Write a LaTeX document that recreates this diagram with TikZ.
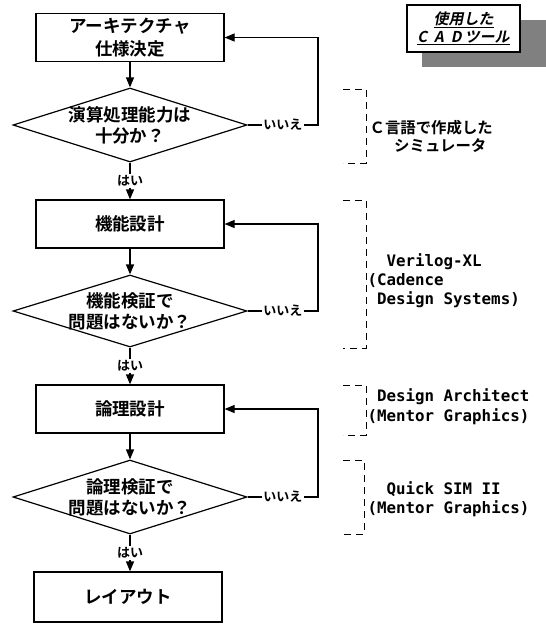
\documentclass[tikz,border=0pt]{standalone}
\usepackage{fontspec}
\newfontfamily\jp{Noto Sans CJK JP Bold}
\newfontfamily\jpit{Noto Sans CJK JP Bold}[FakeSlant=0.2]
\newfontfamily\mono{DejaVu Sans Mono Bold}
\usetikzlibrary{arrows.meta,shapes.geometric}
\begin{document}
\begin{tikzpicture}[x=1pt,y=-1pt,
  line width=1.2pt,
  procbox/.style={draw, minimum width=188pt, minimum height=48pt, inner sep=0pt, align=center, font=\jp\fontsize{17.5}{23}\selectfont},
  decbox/.style={draw, diamond, aspect=3.16, minimum width=234pt, minimum height=74pt, inner sep=0pt},
  dectext/.style={align=center, font=\jp\fontsize{17.5}{21}\selectfont, inner sep=0pt},
  flow/.style={-{Triangle[length=10pt,width=8pt]}},
  yesno/.style={font=\jp\fontsize{13}{13}\selectfont, fill=white, inner sep=1.5pt},
  tool/.style={anchor=west, align=left, font=\mono\fontsize{15.8}{19}\selectfont, inner sep=0pt},
  brk/.style={line width=1pt, dash pattern=on 7pt off 5pt}
]
\useasboundingbox (0,0) rectangle (546,625);

% process boxes and decisions
\node[procbox] (b1) at (130,37.5) {アーキテクチャ\\仕様決定};
\node[decbox] (d1) at (130,125) {};
\node[dectext] (t1) at (d1.center) {演算処理能力は\\十分か？};
\node[procbox] (b2) at (130,224) {機能設計};
\node[decbox, minimum height=72pt] (d2) at (130,311) {};
\node[dectext] (t2) at (d2.center) {機能検証で\\問題はないか？};
\node[procbox] (b3) at (130,409) {論理設計};
\node[decbox] (d3) at (130,497) {};
\node[dectext] (t3) at (d3.center) {論理検証で\\問題はないか？};
\node[procbox, minimum height=50pt] (b4) at (128,597) {レイアウト};

% connectors
\coordinate (rx) at (318,0);
\draw[flow] (b1) -- (d1);
\draw[flow] (d1) -- node[yesno]{はい} (b2);
\draw[flow] (d1.east) -- node[yesno]{いいえ} (d1.east -| rx) |- (b1.east);
\draw[flow] (b2) -- (d2);
\draw[flow] (d2) -- node[yesno]{はい} (b3);
\draw[flow] (d2.east) -- node[yesno]{いいえ} (d2.east -| rx) |- (b2.east);
\draw[flow] (b3) -- (d3);
\draw[flow] (d3) -- node[yesno]{はい} (b3 |- b4.north);
\draw[flow] (d3.east) -- node[yesno]{いいえ} (d3.east -| rx) |- (b3.east);

% CAD tool header
\fill[black!50] (422,20) rectangle (546,67);
\node[draw, fill=white, minimum width=113pt, minimum height=47pt, inner sep=0pt, align=center,
      font=\jpit\fontsize{15}{18}\selectfont] (cad) at (463.5,28.5)
      {\underline{使用した}\\\underline{C\hspace{7pt}A\hspace{7pt}D\hspace{3pt}ツール}};

% dashed brackets
\draw[brk] (343,89) -- (366,89) -- (366,163) -- (343,163);
\draw[brk] (343,200) -- (366,200) -- (366,348) -- (343,348);
\draw[brk] (343,385) -- (366,385) -- (366,435) -- (343,435);
\draw[brk] (343,460) -- (364,460) -- (364,534) -- (343,534);

% tool texts
\node[anchor=west, align=left, inner sep=0pt, font=\jp\fontsize{15.4}{18}\selectfont] (c1) at (369,136)
  {Ｃ言語で作成した\\\hspace{1.6em}シミュレータ};
\node[tool] (c2) at (367,281) {\hspace{19pt}Verilog-XL\\(Cadence\\\hspace{9.5pt}Design Systems)};
\node[tool, font=\mono\fontsize{15.8}{20}\selectfont] (c3) at (367,407) {\hspace{9.5pt}Design Architect\\(Mentor Graphics)};
\node[tool] (c4) at (367,499.5) {\hspace{19pt}Quick SIM II\\(Mentor Graphics)};
\end{tikzpicture}
\end{document}
